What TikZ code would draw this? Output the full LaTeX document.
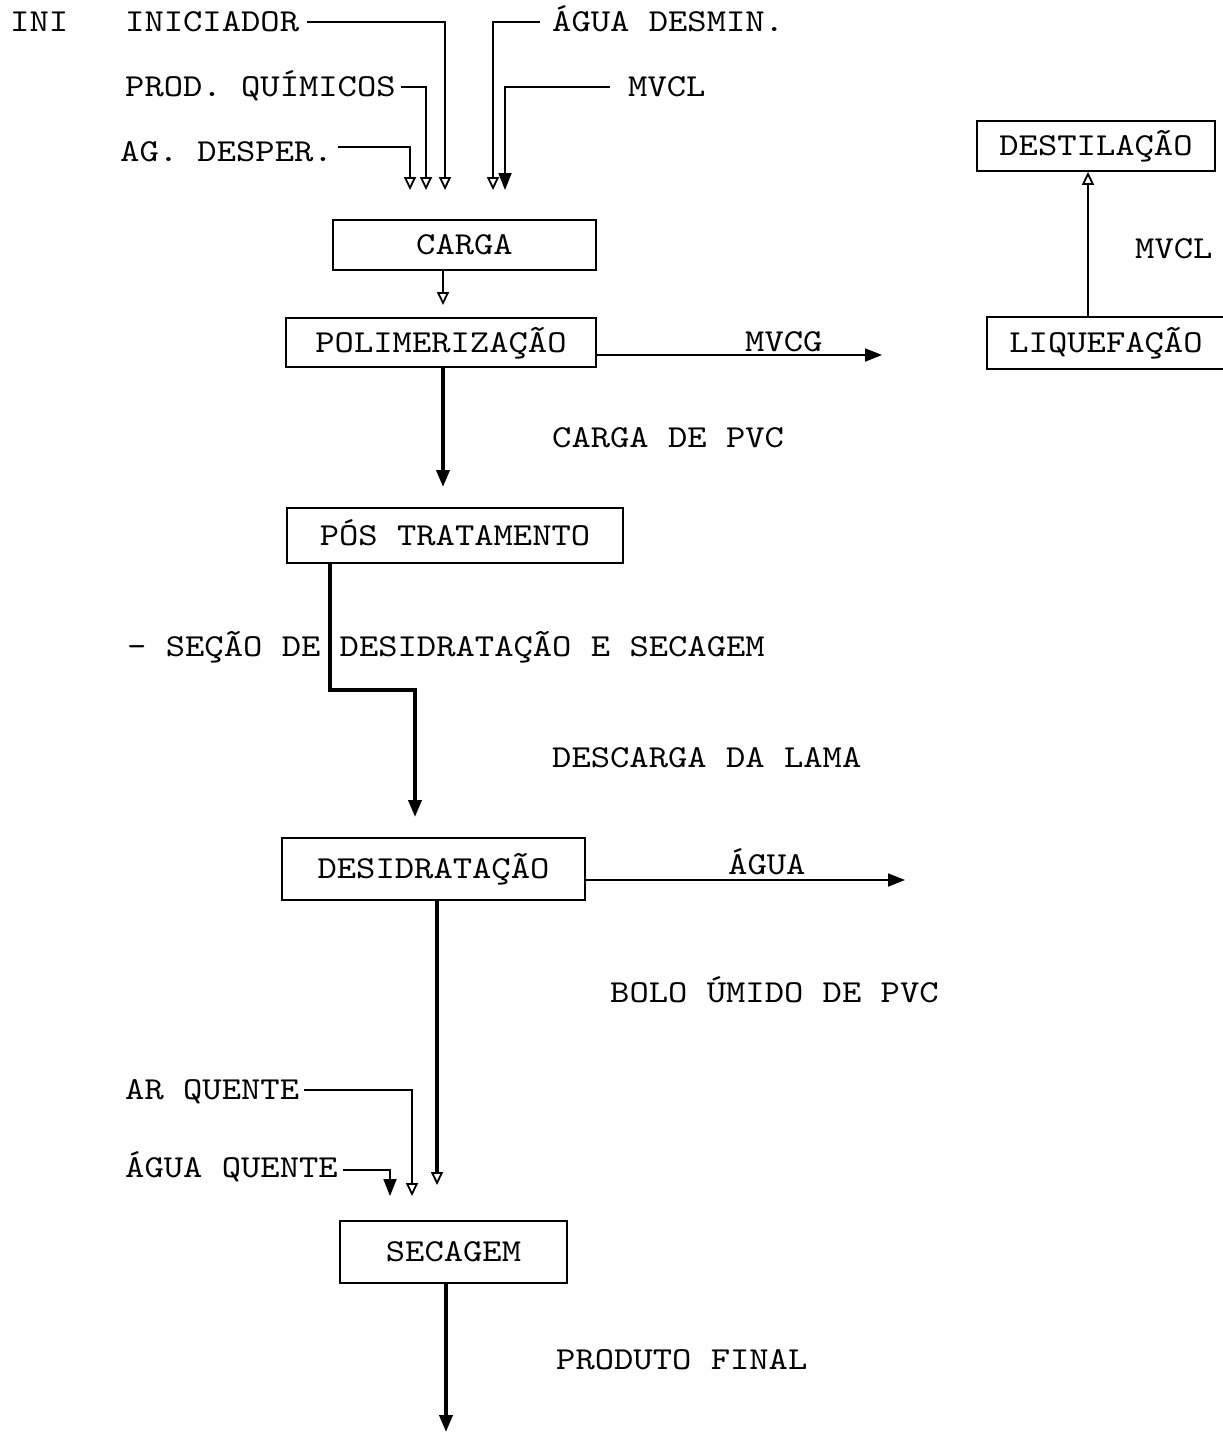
\documentclass[tikz,border=0pt]{standalone}
\usepackage{fontspec}
\newfontfamily\tw{lmmono10-regular.otf}[FakeStretch=1.15]
\usetikzlibrary{arrows.meta}
\begin{document}
\begin{tikzpicture}[x=1pt,y=-1pt,
  font=\tw\fontsize{32}{32}\selectfont,
  txt/.style={inner sep=0pt, text height=19pt, text depth=0pt, anchor=west},
  box/.style={draw, line width=1.8pt, inner sep=0pt, text height=19pt, text depth=0pt},
  thinln/.style={line width=1.8pt},
  thickln/.style={line width=3.6pt},
  otip/.style={-{Triangle[open,length=13pt,width=12pt,line width=1.8pt]}},
  ftip/.style={-{Triangle[length=17pt,width=13pt]}}]
\useasboundingbox (0,0) rectangle (1223,1433);

% top inputs
\node[txt] (ini) at (10,22) {INI};
\node[txt] (inic) at (125,22) {INICIADOR};
\node[txt] (prod) at (125,87) {PROD. QUÍMICOS};
\node[txt] (agd) at (120,152) {AG. DESPER.};
\node[txt] (aguad) at (552,22) {ÁGUA DESMIN.};
\node[txt] (mvcl1) at (628,87) {MVCL};

\coordinate (a1) at (410,190);
\coordinate (a2) at (426,190);
\coordinate (a3) at (445,190);
\coordinate (a4) at (493,190);
\coordinate (a5) at (505,190);

\draw[thinln,otip] ([xshift=8pt]inic.east) -| (a3);
\draw[thinln,otip] ([xshift=5pt]prod.east) -| (a2);
\draw[thinln,otip] ([xshift=5pt,yshift=5pt]agd.east) -| (a1);
\draw[thinln,otip] ([xshift=-12pt]aguad.west) -| (a4);
\draw[thinln,ftip] ([xshift=-18pt]mvcl1.west) -| (a5);

% boxes
\node[box, minimum width=263pt, minimum height=50pt] (carga) at (464.5,245) {CARGA};
\node[box, minimum width=310pt, minimum height=49pt] (polim) at (441,342.5) {POLIMERIZAÇÃO};
\node[box, minimum width=238pt, minimum height=50pt] (dest) at (1096,146) {DESTILAÇÃO};
\node[box, minimum width=238pt, minimum height=52pt] (liq) at (1106,343) {LIQUEFAÇÃO};
\node[box, minimum width=336pt, minimum height=55pt] (pos) at (455,535.5) {PÓS TRATAMENTO};
\node[box, minimum width=303pt, minimum height=62pt] (desid) at (433.5,869) {DESIDRATAÇÃO};
\node[box, minimum width=227pt, minimum height=62pt] (sec) at (453.5,1252) {SECAGEM};

% labels
\node[txt] (mvcg) at (745,342) {MVCG};
\node[txt] (mvcl2) at (1135,249) {MVCL};
\node[txt] (cpvc) at (552,438) {CARGA DE PVC};
\node[txt] (secao) at (127,647) {- SEÇÃO DE DESIDRATAÇÃO E SECAGEM};
\node[txt] (lama) at (552,758) {DESCARGA DA LAMA};
\node[txt] (aguaw) at (728,865) {ÁGUA};
\node[txt] (bolo) at (610,993) {BOLO ÚMIDO DE PVC};
\node[txt] (arq) at (125,1090) {AR QUENTE};
\node[txt] (aguaq) at (125,1168) {ÁGUA QUENTE};
\node[txt] (prodf) at (556,1360) {PRODUTO FINAL};

% connectors
\coordinate (c1) at (443,305);
\draw[thinln,otip] (carga.south -| c1) -- (c1);

\coordinate (c2) at (443,487);
\draw[thickln,ftip] (polim.south -| c2) -- (c2);

\coordinate (c8) at (882,355);
\draw[thinln,ftip] (polim.east |- c8) -- (c8);

\coordinate (c9) at (1088,0);
\draw[thinln,otip] (liq.north -| c9) -- (dest.south -| c9);

\coordinate (c3) at (330,690);
\coordinate (c4) at (415,690);
\coordinate (c5) at (415,817);
\draw[thickln,ftip] (pos.south -| c3) -- (c3) -- (c4) -- (c5);

\coordinate (c7) at (905,880);
\draw[thinln,ftip] (desid.east |- c7) -- (c7);

\coordinate (c6) at (437,1185);
\draw[thickln,otip] (desid.south -| c6) -- (c6);

\coordinate (c10) at (412,1196);
\draw[thinln,otip] ([xshift=5pt]arq.east) -| (c10);
\coordinate (c11) at (390,1196);
\draw[thinln,ftip] ([xshift=5pt,yshift=-2pt]aguaq.east) -| (c11);

\coordinate (c12) at (446,1432);
\draw[thickln,ftip] (sec.south -| c12) -- (c12);
\end{tikzpicture}
\end{document}
